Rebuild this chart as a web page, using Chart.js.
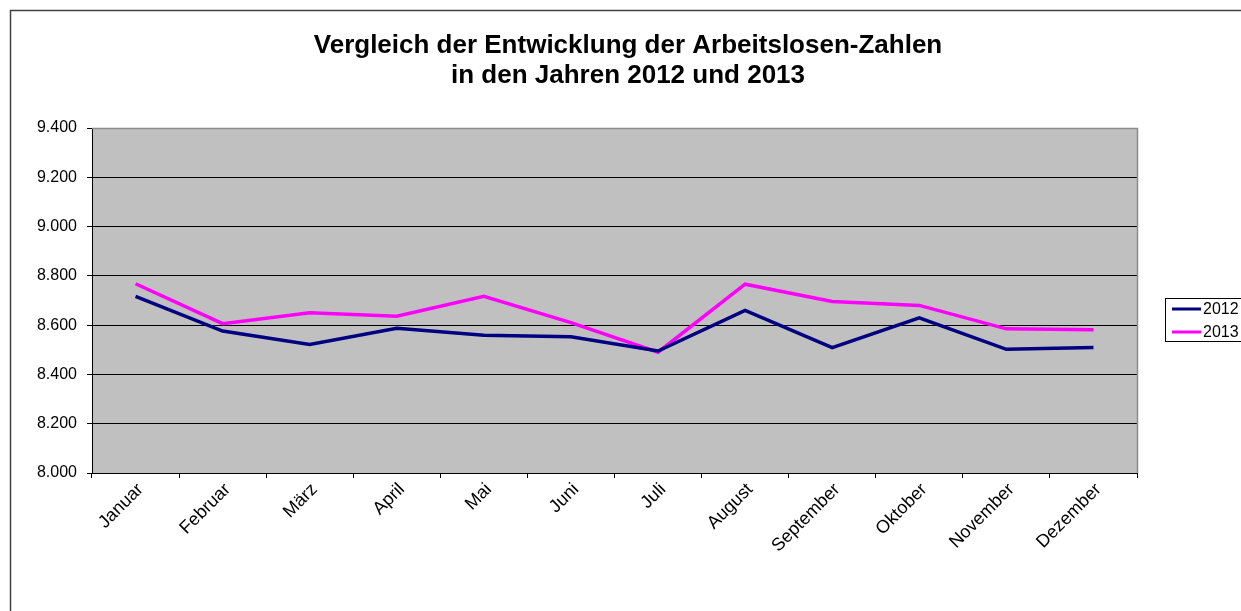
<!DOCTYPE html>
<html><head><meta charset="utf-8">
<script src="https://cdn.jsdelivr.net/npm/chart.js@4.4.0/dist/chart.umd.min.js"></script>
<style>html,body{margin:0;padding:0;background:#fff;overflow:hidden}#wrap{position:absolute;left:0;top:0;width:1241px;height:611px}</style>
</head><body><div id="wrap"><canvas id="c" width="1241" height="611"></canvas></div>
<script>
const titleLines = ['Vergleich der Entwicklung der Arbeitslosen-Zahlen', 'in den Jahren 2012 und 2013'];
const months = ['Januar','Februar','März','April','Mai','Juni','Juli','August','September','Oktober','November','Dezember'];
const seriesLabels = ['2012', '2013'];
const values2012 = [8717, 8576, 8522, 8587, 8559, 8553, 8495, 8660, 8509, 8630, 8502, 8509];
const values2013 = [8768, 8606, 8650, 8636, 8717, 8610, 8490, 8766, 8696, 8680, 8585, 8581];
const yMin = 8000, yMax = 9400, yStep = 200;

const FONT = '"Liberation Sans", Arial, sans-serif';
function fmt(v){ return String(v).replace(/\B(?=(\d{3})+(?!\d))/g, '.'); }

const deco = {
  id: 'deco',
  beforeDraw(chart){
    const ctx = chart.ctx, a = chart.chartArea;
    ctx.save();
    ctx.fillStyle = '#fff';
    ctx.fillRect(0, 0, chart.width, chart.height);
    ctx.fillStyle = '#c0c0c0';
    ctx.fillRect(a.left, a.top, a.right - a.left, a.bottom - a.top);
    ctx.strokeStyle = '#404040';
    ctx.lineWidth = 1.5;
    ctx.beginPath();
    ctx.moveTo(10.5, chart.height);
    ctx.lineTo(10.5, 10.5);
    ctx.lineTo(chart.width, 10.5);
    ctx.stroke();
    ctx.restore();
  },
  beforeDatasetsDraw(chart){
    const ctx = chart.ctx, a = chart.chartArea;
    ctx.save();
    ctx.strokeStyle = '#8c8c8c';
    ctx.lineWidth = 1.5;
    ctx.beginPath();
    ctx.moveTo(a.left, a.top + 0.5);
    ctx.lineTo(a.right + 0.5, a.top + 0.5);
    ctx.lineTo(a.right + 0.5, a.bottom);
    ctx.stroke();
    ctx.restore();
  },
  afterDraw(chart){
    const ctx = chart.ctx;
    ctx.save();
    ctx.fillStyle = '#000';
    ctx.font = 'bold 26px ' + FONT;
    ctx.textAlign = 'center';
    ctx.textBaseline = 'middle';
    ctx.fillText(titleLines[0], 628, 46);
    ctx.fillText(titleLines[1], 628, 76);
    ctx.strokeStyle = '#000';
    ctx.lineWidth = 1;
    ctx.strokeRect(1165.5, 298.5, 100, 43);
    const ys = [309, 332];
    chart.data.datasets.forEach((ds, i) => {
      ctx.strokeStyle = ds.borderColor;
      ctx.lineWidth = 3;
      ctx.beginPath();
      ctx.moveTo(1172, ys[i]);
      ctx.lineTo(1201, ys[i]);
      ctx.stroke();
      ctx.fillStyle = '#000';
      ctx.font = '16px ' + FONT;
      ctx.textAlign = 'left';
      ctx.textBaseline = 'middle';
      ctx.fillText(ds.label, 1203, ys[i] + 1);
    });
    ctx.restore();
  }
};

new Chart(document.getElementById('c'), {
  type: 'line',
  data: {
    labels: months,
    datasets: [
      { label: seriesLabels[0], data: values2012, borderColor: '#000080', backgroundColor: '#000080', borderWidth: 3.5, pointRadius: 0, tension: 0 },
      { label: seriesLabels[1], data: values2013, borderColor: '#ff00ff', backgroundColor: '#ff00ff', borderWidth: 3.5, pointRadius: 0, tension: 0 }
    ]
  },
  options: {
    responsive: false,
    devicePixelRatio: 1,
    animation: false,
    layout: { padding: { left: 10, right: 104, top: 128, bottom: 48 } },
    plugins: { legend: { display: false }, title: { display: false }, tooltip: { enabled: false } },
    scales: {
      x: {
        offset: true,
        grid: { offset: true, drawOnChartArea: false, drawTicks: true, tickLength: 5, color: '#000' },
        border: { color: '#000', width: 1 },
        ticks: { color: '#000', font: { family: FONT, size: 18 }, minRotation: 45, maxRotation: 45, padding: 1, labelOffset: 5, autoSkip: false },
        afterFit(s){ s.height = 90; }
      },
      y: {
        min: yMin, max: yMax,
        grid: { color: (c) => (c.tick && c.tick.value === yMax) ? 'rgba(0,0,0,0)' : '#000', tickLength: 5, drawTicks: true, tickColor: '#000' },
        border: { color: '#000', width: 1 },
        ticks: { stepSize: yStep, color: '#000', font: { family: FONT, size: 16 }, padding: 10, callback: (v) => fmt(v) },
        afterFit(s){ s.width = 82; }
      }
    }
  },
  plugins: [deco]
});
</script></body></html>
